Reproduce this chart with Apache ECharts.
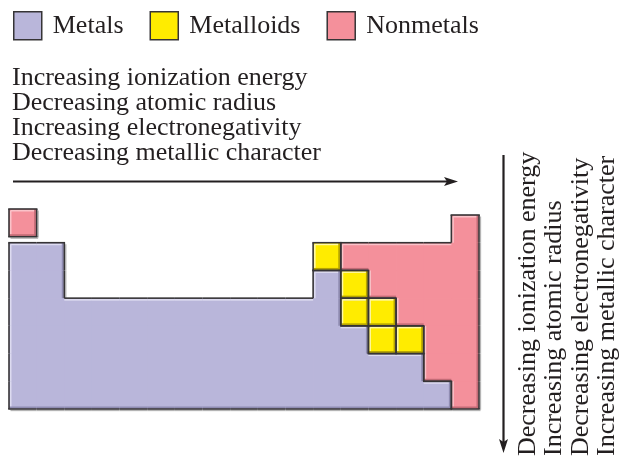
<!DOCTYPE html>
<html>
<head>
<meta charset="utf-8">
<script src="https://cdn.jsdelivr.net/npm/echarts@6/dist/echarts.min.js"></script>
<style>
  html, body { margin: 0; padding: 0; background: #fff; }
  #main { width: 626px; height: 457px; }
</style>
</head>
<body>
<div id="main"></div>
<script>
// legend names
var categories = ['Metals', 'Metalloids', 'Nonmetals'];

// cells as [row, fromCol, toCol] (columns of the schematic table, 17 wide)
var metalSpans = [[2, 1, 2], [3, 1, 2], [3, 12, 12], [4, 1, 12], [5, 1, 13], [6, 1, 15], [7, 1, 16]];
var metalloidCells = [[12, 2], [13, 3], [13, 4], [14, 4], [14, 5], [15, 5]];
var nonmetalSpans = [[1, 17, 17], [2, 13, 17], [3, 14, 17], [4, 15, 17], [5, 16, 17], [6, 16, 17], [7, 17, 17]];
var hydrogenCell = [[1, 1]];

var acrossLines = ['Increasing ionization energy', 'Decreasing atomic radius',
    'Increasing electronegativity', 'Decreasing metallic character'];
var downLines = ['Decreasing ionization energy', 'Increasing atomic radius',
    'Decreasing electronegativity', 'Increasing metallic character'];

function spansToCells(spans) {
    var out = [];
    spans.forEach(function (s) {
        for (var c = s[1]; c <= s[2]; c++) out.push([c, s[0]]);
    });
    return out;
}

var metalCells = spansToCells(metalSpans);
var nonmetalCells = spansToCells(nonmetalSpans);

var palette = {
    Metals: { fill: '#b9b6da', light: '#dddbf0', shade: '#8f8cb2' },
    Metalloids: { fill: '#ffec00', light: '#fff8a8', shade: '#b5a300' },
    Nonmetals: { fill: '#f4909b', light: '#fac3c9', shade: '#c36b76' }
};
var edgeColor = '#363436';

function key(c, r) { return c + '_' + r; }
var allSet = {};
metalCells.concat(metalloidCells, nonmetalCells).forEach(function (d) { allSet[key(d[0], d[1])] = true; });

function makeRenderer(cells, pal, joined, shiftY) {
    var own = {};
    cells.forEach(function (d) { own[key(d[0], d[1])] = true; });
    return function (params, api) {
        var col = api.value(0), row = api.value(1);
        var p0 = api.coord([col - 1, row - 1]);
        var p1 = api.coord([col, row]);
        var x0 = p0[0], y0 = p0[1] + shiftY, x1 = p1[0], y1 = p1[1] + shiftY;
        var has = function (c, r) { return joined && own[key(c, r)]; };
        var top = !has(col, row - 1), bottom = !has(col, row + 1);
        var left = !has(col - 1, row), right = !has(col + 1, row);
        var kids = [];
        kids.push({
            type: 'rect', z2: 0,
            shape: { x: x0, y: y0, width: x1 - x0 + (right ? 0 : 0.8), height: y1 - y0 + (bottom ? 0 : 0.8) },
            style: { fill: pal.fill }
        });
        function seg(a, b, c, d, color, w, z2) {
            kids.push({
                type: 'line', z2: z2,
                shape: { x1: a, y1: b, x2: c, y2: d },
                style: { stroke: color, lineWidth: w, lineCap: 'butt' }
            });
        }
        var o = 1.7, w = 1.6, h = w / 2;
        if (top) seg(x0 + (left ? o : 0), y0 + o, x1 - (right ? o : 0), y0 + o, pal.light, 1.6, 1);
        if (left) seg(x0 + o, y0 + (top ? o : 0), x0 + o, y1 - (bottom ? o : 0), pal.light, 1.6, 1);
        if (bottom) seg(x0, y1 - o, x1, y1 - o, pal.shade, 1.6, 1);
        if (right) seg(x1 - o, y0, x1 - o, y1, pal.shade, 1.6, 1);
        // drop shadow where nothing sits next to the cell
        var empty = function (c, r) { return !joined || !allSet[key(c, r)]; };
        if (bottom && empty(col, row + 1)) seg(x0 + (left ? 1.5 : 0), y1 + 1.5, x1 + (right ? 1.5 : 0), y1 + 1.5, '#b4b4b4', 1.3, 0.5);
        if (right && empty(col + 1, row)) seg(x1 + 1.5, y0 + (top ? 1.5 : 0), x1 + 1.5, y1 + (bottom ? 0.85 : 0), '#b4b4b4', 1.3, 0.5);
        if (top) seg(x0 - (left ? h : 0), y0, x1 + (right ? h : 0), y0, edgeColor, w, 2);
        if (bottom) seg(x0 - (left ? h : 0), y1, x1 + (right ? h : 0), y1, edgeColor, w, 2);
        if (left) seg(x0, y0, x0, y1, edgeColor, w, 2);
        if (right) seg(x1, y0, x1, y1, edgeColor, w, 2);
        return { type: 'group', children: kids };
    };
}

var serif = 'Liberation Serif';
var textColor = '#231f20';
var fontPx = 26;

var graphics = [];
acrossLines.forEach(function (t, i) {
    graphics.push({
        type: 'text', left: 12, top: 65 + i * 25,
        style: { text: t, font: fontPx + 'px "' + serif + '"', fill: textColor }
    });
});
downLines.forEach(function (t, i) {
    graphics.push({
        type: 'text', x: 528 + i * 26.5, y: 456, rotation: Math.PI / 2,
        style: { text: t, font: fontPx + 'px "' + serif + '"', fill: textColor,
            textAlign: 'left', textVerticalAlign: 'middle', align: 'left', verticalAlign: 'middle' }
    });
});
// arrows
graphics.push({ type: 'line', shape: { x1: 13, y1: 181.5, x2: 450, y2: 181.5 }, style: { stroke: '#231f20', lineWidth: 2.2 } });
graphics.push({ type: 'polygon', shape: { points: [[458, 181.5], [444, 177], [447, 181.5], [444, 186]] }, style: { fill: '#231f20' } });
graphics.push({ type: 'line', shape: { x1: 503.5, y1: 155, x2: 503.5, y2: 444 }, style: { stroke: '#231f20', lineWidth: 2.2 } });
graphics.push({ type: 'polygon', shape: { points: [[503.5, 453], [499, 439], [503.5, 442], [508, 439]] }, style: { fill: '#231f20' } });

var chart = echarts.init(document.getElementById('main'), null, { renderer: 'canvas' });
var option = {
    animation: false,
    backgroundColor: '#fff',
    legend: {
        data: categories,
        left: 13, top: 11,
        padding: 0,
        icon: 'rect',
        itemWidth: 28, itemHeight: 28,
        itemGap: 26,
        selectedMode: false,
        itemStyle: { borderColor: edgeColor, borderWidth: 1.5 },
        textStyle: { fontFamily: serif, fontSize: fontPx, color: textColor, padding: [0, 0, 0, 6] }
    },
    grid: { left: 9, top: 215, width: 470, height: 194 },
    xAxis: { type: 'value', min: 0, max: 17, show: false },
    yAxis: { type: 'value', min: 0, max: 7, inverse: true, show: false },
    graphic: graphics,
    series: [
        { name: 'Metals', type: 'custom', color: palette.Metals.fill, data: metalCells,
            renderItem: makeRenderer(metalCells, palette.Metals, true, 0) },
        { name: 'Nonmetals', type: 'custom', color: palette.Nonmetals.fill, data: nonmetalCells,
            renderItem: makeRenderer(nonmetalCells, palette.Nonmetals, true, 0) },
        { name: 'Metalloids', type: 'custom', color: palette.Metalloids.fill, data: metalloidCells,
            renderItem: makeRenderer(metalloidCells, palette.Metalloids, false, 0) },
        { name: 'Nonmetals', type: 'custom', color: palette.Nonmetals.fill, data: hydrogenCell,
            renderItem: makeRenderer(hydrogenCell, palette.Nonmetals, false, -6) }
    ]
};
chart.setOption(option);
window.onresize = chart.resize;
</script>
</body>
</html>
